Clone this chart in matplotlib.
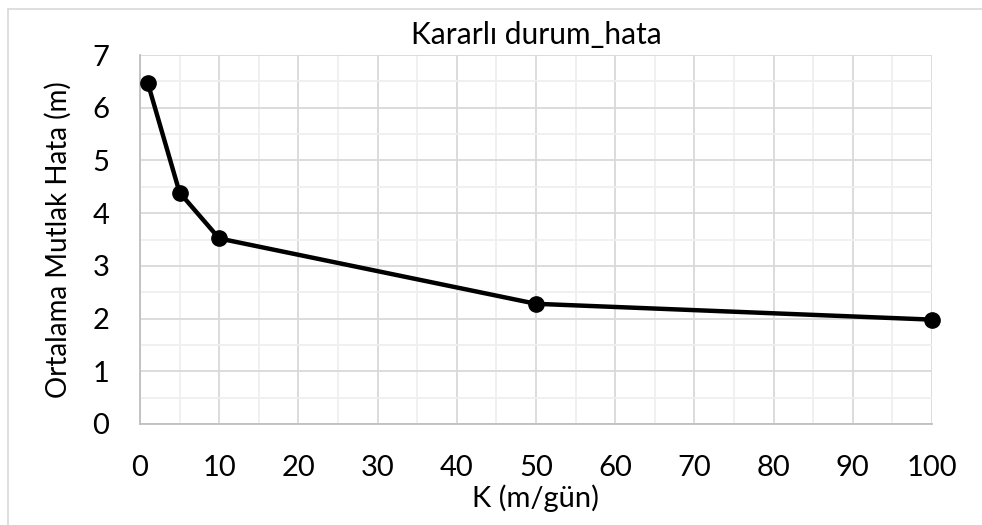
import numpy as np
import matplotlib as mpl
from matplotlib import pyplot as plt
from matplotlib.lines import Line2D

mpl.rcParams.update({
    'font.family': ['Lato', 'DejaVu Sans'],
    'font.size': 20,
})

# data
k_values = [1, 5, 10, 50, 100]
mae_values = [6.46, 4.39, 3.52, 2.28, 1.98]

x_ticks = [0, 10, 20, 30, 40, 50, 60, 70, 80, 90, 100]
y_ticks = [0, 1, 2, 3, 4, 5, 6, 7]

W, H = 982, 525
fig = plt.figure(figsize=(W / 100, H / 100), dpi=100)
ax = fig.add_axes([140 / W, 1 - 424 / H, 792 / W, 369 / H])

# chart frame: only its top and left edges show in the crop
fig.lines.append(Line2D([7.5 / W, 7.5 / W], [0, 1 - 8.5 / H], transform=fig.transFigure,
                        color='#d9d9d9', linewidth=1.2))
fig.lines.append(Line2D([7.5 / W, 1], [1 - 8.5 / H, 1 - 8.5 / H], transform=fig.transFigure,
                        color='#d9d9d9', linewidth=1.2))

ax.plot(k_values, mae_values, color='k', linewidth=3.2, marker='o',
        markersize=11, solid_capstyle='round', zorder=3, clip_on=False)

ax.set_xlim(0, 100)
ax.set_ylim(0, 7)
ax.set_xticks(x_ticks)
ax.set_yticks(y_ticks)
ax.set_xticks(np.arange(0, 101, 5), minor=True)
ax.set_yticks(np.arange(0, 7.01, 0.5), minor=True)

ax.grid(which='major', color='#d9d9d9', linewidth=1.3)
ax.grid(which='minor', color='#efefef', linewidth=1.3)
ax.set_axisbelow(True)

for side in ['top', 'right']:
    ax.spines[side].set_visible(False)
for side in ['left', 'bottom']:
    ax.spines[side].set_color('#bfbfbf')
    ax.spines[side].set_linewidth(1.3)

ax.tick_params(which='both', length=0, labelsize=21, colors='black')
ax.tick_params(axis='x', pad=22)
ax.tick_params(axis='y', pad=22)

ax.set_title('Kararlı durum_hata', fontsize=21.5, pad=8)
ax.set_xlabel('K (m/gün)', fontsize=21, labelpad=3)
ax.set_ylabel('Ortalama Mutlak Hata (m)', fontsize=20, labelpad=15)

fig.savefig('out.png', dpi=100)
